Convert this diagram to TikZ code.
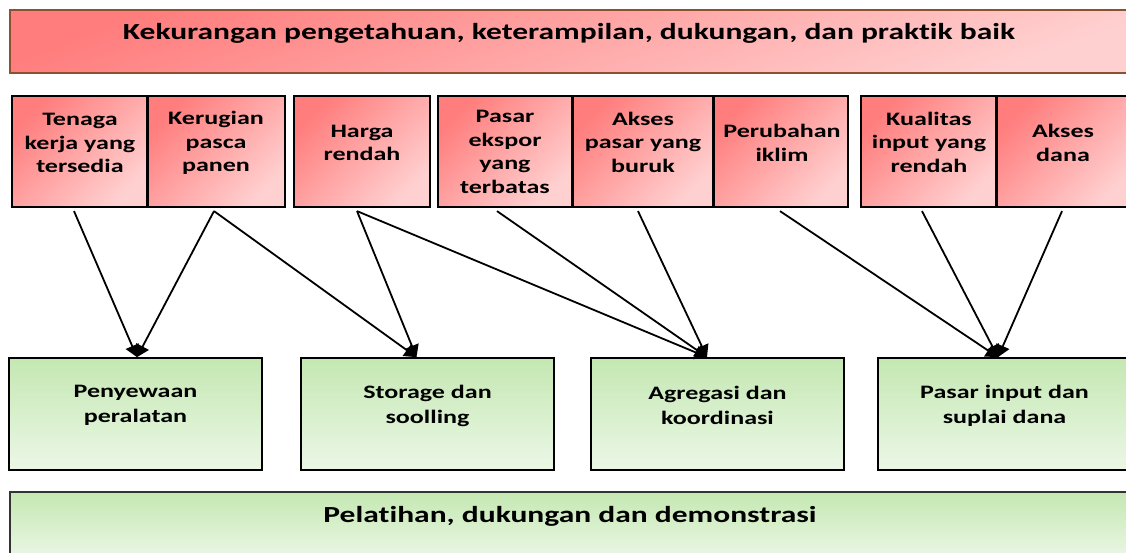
\documentclass[tikz,border=0pt]{standalone}
\usepackage{fontspec}
\setmainfont{Carlito}[FakeStretch=1.37, Ligatures=NoCommon]
\usetikzlibrary{arrows.meta}

\definecolor{redA}{RGB}{255,125,125}
\definecolor{redB}{RGB}{255,208,208}
\definecolor{grnA}{RGB}{196,232,178}
\definecolor{grnB}{RGB}{236,247,231}
\definecolor{bannerline}{RGB}{140,80,50}

\tikzset{
  redbox/.style={draw=black, line width=2.2pt, top color=redA, bottom color=redB, shading angle=45,
    minimum width=#1, minimum height=111pt, inner sep=0pt},
  grnbox/.style={draw=black, line width=1.7pt, top color=grnA, bottom color=grnB,
    minimum width=253pt, minimum height=112pt, inner sep=0pt},
  boxtext/.style={font=\fontsize{19}{23.5}\selectfont\bfseries, align=center, inner sep=0pt},
  grntext/.style={font=\fontsize{19}{25}\selectfont\bfseries, align=center, inner sep=0pt},
  bigtext/.style={font=\fontsize{23}{27}\selectfont\bfseries, inner sep=0pt},
  arr/.style={line width=1.8pt, -{Triangle[width=14pt,length=12pt]}}
}

\begin{document}
\begin{tikzpicture}[x=1pt, y=-1pt]
  \useasboundingbox (0,0) rectangle (1126,552);
  % banners
  \node[draw=bannerline, line width=1.4pt, top color=redA, bottom color=redB, shading angle=20,
    minimum width=1125pt, minimum height=63pt, inner sep=0pt] (lack) at (572.5,41.5) {};
  \node[bigtext] (lackt) at (569,33) {Kekurangan pengetahuan, keterampilan, dukungan, dan praktik baik};
  \node[draw=black!80, line width=1.4pt, top color=grnA, bottom color=grnB,
    minimum width=1125pt, minimum height=68pt, inner sep=0pt] (train) at (572.5,526) {};
  \node[bigtext] (traint) at (570,516) {Pelatihan, dukungan dan demonstrasi};

  % constraints
  \node[redbox=135pt] (ten) at (79.5,151.5) {};
  \node[redbox=137pt] (ker) at (216.5,151.5) {};
  \node[redbox=136pt] (har) at (362,151.5) {};
  \node[redbox=134pt] (eks) at (505,151.5) {};
  \node[redbox=140pt] (aks) at (643,151.5) {};
  \node[redbox=134pt] (per) at (781,151.5) {};
  \node[redbox=135pt] (kua) at (928.5,151.5) {};
  \node[redbox=135pt] (dan) at (1064.5,151.5) {};
  \node[boxtext] (tent) at (80,143) {Tenaga\\kerja yang\\tersedia};
  \node[boxtext] (kert) at (216,143) {Kerugian\\pasca\\panen};
  \node[boxtext] (hart) at (362,143) {Harga\\rendah};
  \node[boxtext] (ekst) at (505,152) {Pasar\\ekspor\\yang\\terbatas};
  \node[boxtext] (akst) at (643,142) {Akses\\pasar yang\\buruk};
  \node[boxtext] (pert) at (782,143) {Perubahan\\iklim};
  \node[boxtext] (kuat) at (929,142) {Kualitas\\input yang\\rendah};
  \node[boxtext] (dant) at (1063,143) {Akses\\dana};

  % services
  \node[grnbox] (pen) at (135.5,414) {};
  \node[grnbox] (sto) at (427.5,414) {};
  \node[grnbox] (agr) at (717.5,414) {};
  \node[grnbox] (pas) at (1004.5,414) {};
  \node[grntext] (pent) at (135.5,405.5) {Penyewaan\\peralatan};
  \node[grntext] (stot) at (427.5,405.5) {Storage dan\\soolling};
  \node[grntext] (agrt) at (717.5,405.5) {Agregasi dan\\koordinasi};
  \node[grntext] (past) at (1004.5,405.5) {Pasar input dan\\suplai dana};

  \draw[arr] ([xshift=-5.5pt,yshift=-3pt]ten.south) to ([xshift=1.5pt]pen.north);
  \draw[arr] ([xshift=-2.5pt,yshift=-3pt]ker.south) to ([xshift=1.5pt]pen.north);
  \draw[arr] ([xshift=-2.5pt,yshift=-3pt]ker.south) to ([xshift=-11pt]sto.north);
  \draw[arr] ([xshift=-5pt,yshift=-3pt]har.south) to ([xshift=-11pt]sto.north);
  \draw[arr] ([xshift=-5pt,yshift=-3pt]har.south) to ([xshift=-10.5pt]agr.north);
  \draw[arr] ([xshift=-8pt,yshift=-3pt]eks.south) to ([xshift=-10.5pt]agr.north);
  \draw[arr] ([xshift=-5pt,yshift=-3pt]aks.south) to ([xshift=-10.5pt]agr.north);
  \draw[arr] ([xshift=-1pt,yshift=-3pt]per.south) to ([xshift=-6.5pt]pas.north);
  \draw[arr] ([xshift=-6.5pt,yshift=-3pt]kua.south) to ([xshift=-6.5pt]pas.north);
  \draw[arr] ([xshift=-2.5pt,yshift=-3pt]dan.south) to ([xshift=-6.5pt]pas.north);
\end{tikzpicture}
\end{document}
